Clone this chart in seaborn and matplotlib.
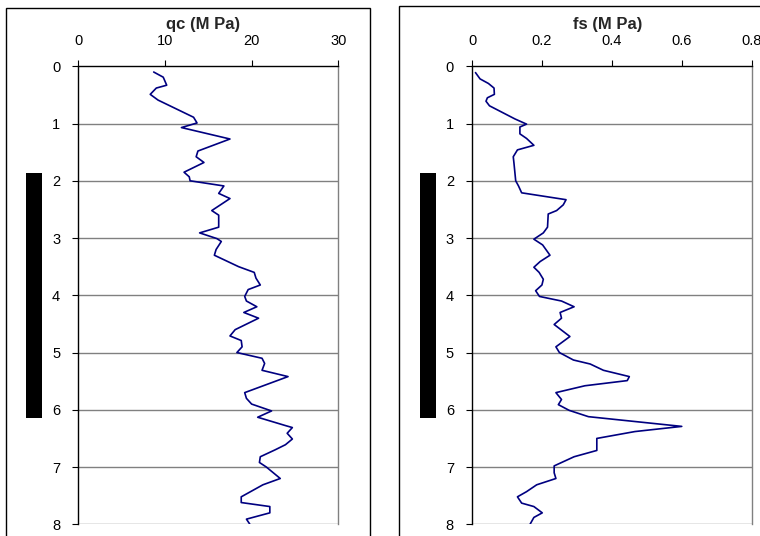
import matplotlib
matplotlib.use("Agg")
import matplotlib.pyplot as plt
import seaborn as sns
import pandas as pd
from matplotlib.patches import Rectangle

# ---- data ----
qc_depth = [0.1, 0.19, 0.33, 0.38, 0.49, 0.59, 0.89, 0.99, 1.07, 1.27, 1.48, 1.58, 1.68, 1.85, 1.93,
            2.0, 2.09, 2.22, 2.31, 2.44, 2.52, 2.60, 2.81, 2.91, 3.01, 3.06, 3.20, 3.30, 3.50, 3.60,
            3.70, 3.82, 3.90, 4.02, 4.10, 4.20, 4.30, 4.40, 4.60, 4.71, 4.79, 4.90, 5.0, 5.10, 5.19,
            5.31, 5.42, 5.70, 5.80, 5.90, 6.02, 6.13, 6.28, 6.31, 6.41, 6.51, 6.61, 6.70, 6.82, 6.92,
            7.0, 7.20, 7.31, 7.52, 7.62, 7.69, 7.80, 7.91, 8.0]
qc_values = [8.7, 9.8, 10.2, 9.0, 8.3, 9.2, 13.3, 13.7, 11.9, 17.5, 13.8, 13.6, 14.5, 12.2, 12.8,
             12.9, 16.8, 16.2, 17.5, 16.2, 15.4, 16.2, 16.2, 14.0, 16.0, 16.5, 15.9, 15.7, 18.5, 20.3,
             20.5, 21.0, 19.6, 19.2, 19.4, 20.6, 19.1, 20.8, 18.1, 17.5, 18.8, 18.9, 18.3, 21.2, 21.5,
             21.2, 24.2, 19.2, 19.4, 20.0, 22.3, 20.7, 24.0, 24.7, 24.1, 24.7, 23.9, 22.7, 21.0, 20.9,
             21.7, 23.3, 21.3, 18.8, 18.8, 22.1, 22.1, 19.4, 19.8]

fs_depth = [0.11, 0.22, 0.30, 0.38, 0.49, 0.55, 0.61, 0.69, 0.92, 1.01, 1.06, 1.18, 1.26, 1.38, 1.46,
            1.58, 1.69, 2.0, 2.09, 2.21, 2.33, 2.42, 2.52, 2.58, 2.81, 2.91, 3.02, 3.12, 3.30, 3.41,
            3.51, 3.60, 3.72, 3.82, 3.92, 4.02, 4.10, 4.20, 4.30, 4.40, 4.51, 4.72, 4.90, 5.0, 5.13,
            5.20, 5.31, 5.42, 5.49, 5.58, 5.70, 5.82, 5.91, 6.01, 6.12, 6.29, 6.38, 6.50, 6.71, 6.82,
            6.98, 7.10, 7.20, 7.31, 7.43, 7.52, 7.63, 7.69, 7.80, 7.88, 8.0]
fs_values = [0.010, 0.023, 0.047, 0.063, 0.064, 0.044, 0.040, 0.050, 0.123, 0.156, 0.137, 0.137, 0.156, 0.177, 0.130,
             0.118, 0.120, 0.125, 0.133, 0.142, 0.269, 0.261, 0.242, 0.218, 0.216, 0.204, 0.177, 0.202, 0.223, 0.195,
             0.177, 0.192, 0.204, 0.200, 0.182, 0.193, 0.256, 0.292, 0.252, 0.256, 0.235, 0.280, 0.240, 0.250, 0.290,
             0.338, 0.376, 0.450, 0.444, 0.323, 0.240, 0.256, 0.247, 0.278, 0.333, 0.600, 0.466, 0.357, 0.357, 0.292,
             0.235, 0.235, 0.240, 0.185, 0.156, 0.130, 0.142, 0.177, 0.201, 0.177, 0.166]

qc_ticks = [0, 10, 20, 30]
fs_ticks = [0, 0.2, 0.4, 0.6, 0.8]
fs_ticklabels = ["0", "0.2", "0.4", "0.6", "0.8"]
depth_ticks = [0, 1, 2, 3, 4, 5, 6, 7, 8]

qc_title = "qc (M Pa)"
fs_title = "fs (M Pa)"

# ---- figure ----
sns.set_theme(style="white")
plt.rcParams["font.family"] = ["Liberation Sans", "DejaVu Sans"]

W, H = 760, 536
fig = plt.figure(figsize=(W / 100, H / 100), dpi=100)
fig.patch.set_facecolor("white")

def fx(px):
    return px / W

def fy(py):
    return 1 - py / H

top_px, bot_px = 66.3, 524.3
ax1 = fig.add_axes([fx(78.3), fy(bot_px), (338.3 - 78.3) / W, (bot_px - top_px) / H])
ax2 = fig.add_axes([fx(472.0), fy(bot_px), (751.7 - 472.0) / W, (bot_px - top_px) / H])

df_qc = pd.DataFrame({"qc": qc_values, "depth": qc_depth})
df_fs = pd.DataFrame({"fs": fs_values, "depth": fs_depth})

line_color = "#000080"
sns.lineplot(data=df_qc, x="qc", y="depth", sort=False, estimator=None,
             color=line_color, linewidth=1.2, ax=ax1, zorder=3)
sns.lineplot(data=df_fs, x="fs", y="depth", sort=False, estimator=None,
             color=line_color, linewidth=1.2, ax=ax2, zorder=3)

for ax, xt, xtl, xlim in [(ax1, qc_ticks, [str(t) for t in qc_ticks], (0, 30)),
                          (ax2, fs_ticks, fs_ticklabels, (0, 0.8))]:
    ax.set_xlim(*xlim)
    ax.set_ylim(8, 0)
    ax.set_facecolor("white")
    ax.xaxis.tick_top()
    ax.set_xticks(xt)
    ax.set_xticklabels(xtl)
    ax.set_yticks(depth_ticks)
    ax.set_yticklabels([str(t) for t in depth_ticks])
    ax.set_xlabel("")
    ax.set_ylabel("")
    ax.tick_params(axis="x", top=True, bottom=False, direction="out", length=4,
                   width=0.8, color="black", labelsize=10.5, pad=9, labelcolor="black")
    ax.tick_params(axis="y", left=True, direction="out", length=4, width=0.8,
                   color="black", labelsize=10.5, pad=9, labelcolor="black")
    for yv in depth_ticks[1:]:
        ax.axhline(yv, color="#808080", linewidth=1.0, zorder=1)
    ax.spines["left"].set_color("black")
    ax.spines["left"].set_linewidth(1.0)
    ax.spines["top"].set_color("black")
    ax.spines["top"].set_linewidth(1.0)
    ax.spines["right"].set_color("#808080")
    ax.spines["right"].set_linewidth(1.0)
    ax.spines["bottom"].set_visible(False)
    for s in ax.spines.values():
        s.set_zorder(4)

fig.text(fx(203), fy(25), qc_title, ha="center", va="center", fontsize=12, fontweight="bold")
fig.text(fx(608), fy(25), fs_title, ha="center", va="center", fontsize=12, fontweight="bold")

# outer frames
fig.add_artist(Rectangle((fx(6), fy(560)), (370 - 6) / W, (560 - 8.3) / H,
                         transform=fig.transFigure, fill=False, edgecolor="black", linewidth=1.0))
fig.add_artist(Rectangle((fx(399), fy(560)), (800 - 399) / W, (560 - 6.3) / H,
                         transform=fig.transFigure, fill=False, edgecolor="black", linewidth=1.0))

# black bars at left of each panel
for x0 in (26, 420):
    fig.add_artist(Rectangle((fx(x0), fy(418)), 16 / W, (418 - 173) / H,
                             transform=fig.transFigure, facecolor="black", edgecolor="none"))

fig.savefig("out.png", dpi=100)
